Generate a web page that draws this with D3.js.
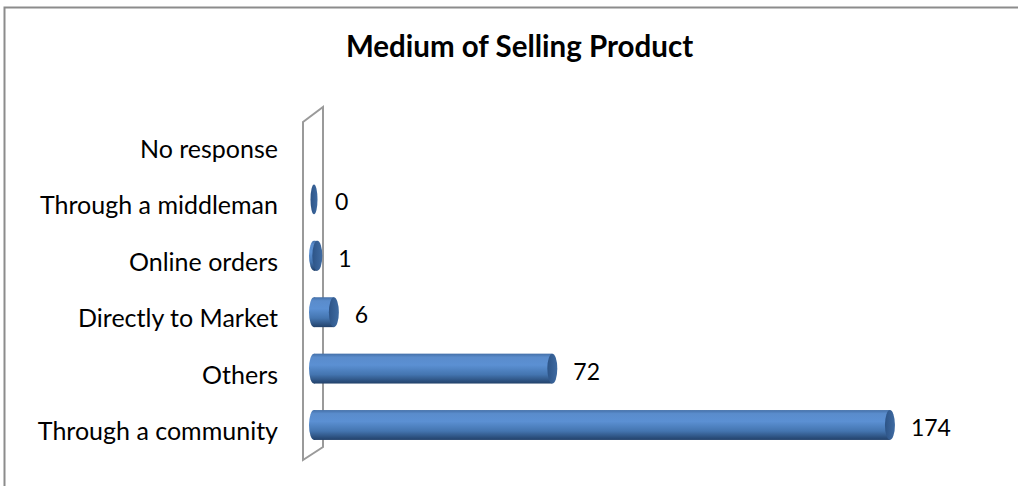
<!DOCTYPE html>
<html>
<head>
<meta charset="utf-8">
<script src="https://cdn.jsdelivr.net/npm/d3@7/dist/d3.min.js"></script>
<style>
  html, body { margin: 0; padding: 0; background: #fff; }
  svg { display: block; font-family: Lato, "Open Sans", sans-serif; }
</style>
</head>
<body>
<svg id="chart" width="1018" height="486"></svg>
<script>
// Survey answers: how respondents sell their product
const categories = [
  "No response",
  "Through a middleman",
  "Online orders",
  "Directly to Market",
  "Others",
  "Through a community"
];
const counts = [null, 0, 1, 6, 72, 174];
const chartTitle = "Medium of Selling Product";

const svg = d3.select("#chart");
const W = 1018, H = 486;

// frame around the chart area
svg.append("rect")
  .attr("x", 4.5).attr("y", 7.5)
  .attr("width", W + 10).attr("height", H + 10)
  .attr("fill", "none").attr("stroke", "#8c8c8c").attr("stroke-width", 2);

// title
svg.append("text")
  .attr("x", 519.5).attr("y", 57)
  .attr("text-anchor", "middle")
  .attr("font-weight", "bold")
  .attr("font-size", 29.5)
  .attr("fill", "#000")
  .text(chartTitle);

// scales
const y = d3.scaleBand()
  .domain(categories)
  .range([114.8, 453.2])
  .paddingInner(0.47)
  .paddingOuter(0.235);

const x = d3.scaleLinear().domain([0, 200]).range([314, 976]);

// gradient for cylinder bodies
const defs = svg.append("defs");
const g = defs.append("linearGradient").attr("id", "cyl")
  .attr("x1", 0).attr("y1", 0).attr("x2", 0).attr("y2", 1);
[["0%", "#4470a8"], ["12%", "#5a8ccc"], ["38%", "#5b90d3"], ["70%", "#4475b0"], ["100%", "#22416a"]]
  .forEach(([o, c]) => g.append("stop").attr("offset", o).attr("stop-color", c));
const ge = defs.append("linearGradient").attr("id", "capEnd")
  .attr("x1", 0).attr("y1", 0).attr("x2", 1).attr("y2", 0);
[["0%", "#2d5487"], ["100%", "#3f6ba2"]]
  .forEach(([o, c]) => ge.append("stop").attr("offset", o).attr("stop-color", c));

// back wall of the 3D plot
const wall = [[303, 122], [323, 107], [323, 447], [303, 460]];
svg.append("path")
  .attr("d", d3.line()(wall) + "Z")
  .attr("fill", "none")
  .attr("stroke", "#9a9a9a")
  .attr("stroke-width", 2);

// category labels
svg.append("g").selectAll("text")
  .data(categories)
  .join("text")
  .attr("x", 278)
  .attr("y", d => y(d) + y.bandwidth() / 2 + 15)
  .attr("text-anchor", "end")
  .attr("font-size", 25)
  .attr("fill", "#000")
  .text(d => d);

// cylinder bars
const rows = categories.map((c, i) => ({ c, v: counts[i] })).filter(d => d.v !== null);
const rx = 5;
const bars = svg.append("g").selectAll("g").data(rows).join("g");

bars.each(function (d) {
  const sel = d3.select(this);
  const x0 = x(0), x1 = x(d.v);
  const cy = y(d.c) + y.bandwidth() / 2;
  const ry = y.bandwidth() / 2;
  if (x1 - x0 > 0.5) {
    sel.append("ellipse")
      .attr("cx", x0).attr("cy", cy).attr("rx", rx).attr("ry", ry)
      .attr("fill", "url(#cyl)");
    sel.append("rect")
      .attr("x", x0).attr("y", cy - ry)
      .attr("width", x1 - x0).attr("height", ry * 2)
      .attr("fill", "url(#cyl)");
  }
  sel.append("ellipse")
    .attr("cx", x1).attr("cy", cy).attr("rx", x1 - x0 > 0.5 ? rx : 3.5).attr("ry", ry)
    .attr("fill", "url(#capEnd)");
});

// value labels
svg.append("g").selectAll("text")
  .data(rows)
  .join("text")
  .attr("x", d => x(d.v) + 21)
  .attr("y", d => y(d.c) + y.bandwidth() / 2 + 3)
  .attr("dy", "0.35em")
  .attr("font-size", 23)
  .attr("fill", "#000")
  .text(d => d.v);
</script>
</body>
</html>
